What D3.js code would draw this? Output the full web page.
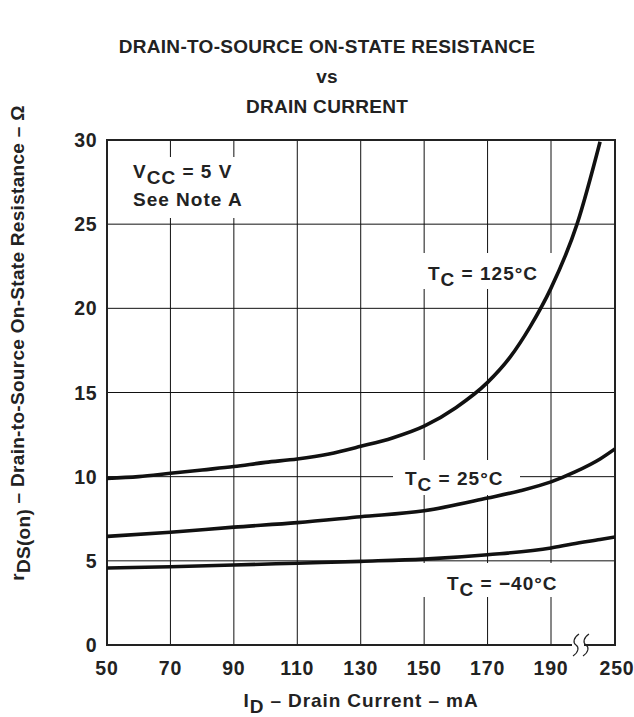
<!DOCTYPE html>
<html><head><meta charset="utf-8">
<script src="https://cdn.jsdelivr.net/npm/d3@7"></script>
<style>html,body{margin:0;padding:0;background:#fff;}svg{display:block;}</style>
</head><body>
<svg id="chart" width="634" height="717"></svg>
<script>
// ---- data ----
const titleLines = ["DRAIN-TO-SOURCE ON-STATE RESISTANCE", "vs", "DRAIN CURRENT"];
const xTicks = [50, 70, 90, 110, 130, 150, 170, 190, 250];
const yTicks = [0, 5, 10, 15, 20, 25, 30];
const xGrid = [70, 90, 110, 130, 150, 170, 190];
const yGrid = [5, 10, 15, 20, 25];
const t125 = [[50,9.9],[60,10.0],[70,10.2],[80,10.4],[90,10.6],[100,10.85],[110,11.05],[120,11.35],[130,11.8],[140,12.3],[150,13.0],[160,14.1],[170,15.6],[177.1,17.1],[183.4,18.9],[190,21.2],[214.4,25],[236,29.9]];
const t25 = [[50,6.45],[70,6.7],[90,7.0],[110,7.27],[130,7.62],[150,7.97],[170,8.73],[180,9.15],[190,9.69],[212.5,10.28],[236,11.05],[250,11.65]];
const tm40 = [[50,4.57],[70,4.65],[90,4.75],[110,4.86],[130,4.97],[150,5.1],[170,5.36],[190,5.76],[210,6.0],[236,6.27],[250,6.42]];

const svg = d3.select("#chart");
const FONT = "'Liberation Sans', Arial, Helvetica, sans-serif";
const x = d3.scaleLinear().domain([50, 190, 250]).range([107, 551, 615]);
const y = d3.scaleLinear().domain([0, 30]).range([645, 140]);
const L = 107, R = 615, T = 140, B = 645;

// title
svg.append("g").selectAll("text").data(titleLines).join("text")
  .attr("x", 327).attr("y", (d,i) => 53 + i*30)
  .attr("text-anchor", "middle").attr("font-family", FONT).attr("font-weight", "bold")
  .attr("font-size", 19).attr("letter-spacing", 0.3).attr("fill", "#222").text(d => d);

// grid
const g = svg.append("g");
g.selectAll("line.v").data(xGrid).join("line").attr("class","v")
  .attr("x1", d => x(d)).attr("x2", d => x(d)).attr("y1", T).attr("y2", B)
  .attr("stroke", "#111").attr("stroke-width", 1);
g.selectAll("line.h").data(yGrid).join("line").attr("class","h")
  .attr("x1", L).attr("x2", R).attr("y1", d => y(d)).attr("y2", d => y(d))
  .attr("stroke", "#111").attr("stroke-width", 1);

// white label backgrounds
const boxes = [[114,157,150,61],[415,253,145,36],[393,460,127,35],[415,563,155,34]];
svg.append("g").selectAll("rect").data(boxes).join("rect")
  .attr("x", d=>d[0]).attr("y", d=>d[1]).attr("width", d=>d[2]).attr("height", d=>d[3]).attr("fill", "#fff");

// frame
const fr = svg.append("g").attr("stroke", "#222").attr("stroke-width", 2).attr("fill", "none");
fr.append("line").attr("x1", L).attr("x2", R).attr("y1", T).attr("y2", T);
fr.append("line").attr("x1", L).attr("x2", L).attr("y1", T-1).attr("y2", B+1);
fr.append("line").attr("x1", R).attr("x2", R).attr("y1", T-1).attr("y2", B+1);
fr.append("line").attr("x1", L).attr("x2", 572).attr("y1", B).attr("y2", B);
fr.append("line").attr("x1", 584).attr("x2", R+1).attr("y1", B).attr("y2", B);
// break marks
[576, 586].forEach(bx => {
  fr.append("path").attr("stroke-width", 1.2)
    .attr("d", `M${bx+3},${B-11} C${bx-3},${B-7} ${bx-3},${B-2} ${bx},${B} C${bx+3},${B+2} ${bx+3},${B+7} ${bx-3},${B+11}`);
});

// curves
svg.append("clipPath").attr("id","pc").append("rect").attr("x", L).attr("y", T).attr("width", R-L).attr("height", B-T);
const line = d3.line().x(d => x(d[0])).y(d => y(d[1])).curve(d3.curveMonotoneX);
svg.append("g").attr("clip-path","url(#pc)").selectAll("path").data([t125, t25, tm40]).join("path")
  .attr("d", line).attr("fill", "none").attr("stroke", "#111").attr("stroke-width", 3.6)
  .attr("stroke-linecap", "butt");

// tick labels
svg.append("g").selectAll("text").data(yTicks).join("text")
  .attr("x", 97).attr("y", d => y(d)).attr("dy", "0.36em").attr("text-anchor", "end")
  .attr("font-family", FONT).attr("font-weight", "bold").attr("font-size", 19.5).attr("letter-spacing", 0.5).attr("fill", "#222")
  .text(d => d);
svg.append("g").selectAll("text").data(xTicks).join("text")
  .attr("x", d => x(d) + (d === 250 ? 2 : 0)).attr("y", 675).attr("text-anchor", "middle")
  .attr("font-family", FONT).attr("font-weight", "bold").attr("font-size", 19.5).attr("letter-spacing", 0.8).attr("fill", "#222")
  .text(d => d);

// helper for text with subscript
function subText(sel, parts, attrs) {
  const t = sel.append("text").attr("font-family", FONT).attr("font-weight", "bold").attr("fill", "#222");
  Object.entries(attrs).forEach(([k,v]) => t.attr(k, v));
  parts.forEach(p => {
    const ts = t.append("tspan").text(p.t);
    if (p.sub) ts.attr("baseline-shift", "-30%");
  });
  return t;
}

// annotations
const ann = {"font-size":19, "letter-spacing":1};
subText(svg, [{t:"V"},{t:"CC",sub:true},{t:" = 5 V"}], {x:133, y:178, ...ann});
svg.append("text").attr("x", 133).attr("y", 206).attr("font-family", FONT).attr("font-weight","bold")
  .attr("font-size", 19).attr("letter-spacing", 1).attr("fill", "#222").text("See Note A");
subText(svg, [{t:"T"},{t:"C",sub:true},{t:" = 125°C"}], {x:428, y:280, ...ann});
subText(svg, [{t:"T"},{t:"C",sub:true},{t:" = 25°C"}], {x:405, y:485, ...ann});
subText(svg, [{t:"T"},{t:"C",sub:true},{t:" = −40°C"}], {x:447, y:590, ...ann});

// axis titles
subText(svg, [{t:"I"},{t:"D",sub:true},{t:" – Drain Current – mA"}], {x:361, y:707, "text-anchor":"middle", "font-size":19, "letter-spacing":0.9});
subText(svg, [{t:"r"},{t:"DS(on)",sub:true},{t:" – Drain-to-Source On-State Resistance – Ω"}],
  {transform:"translate(24,343) rotate(-90)", "text-anchor":"middle", "font-size":19, "letter-spacing":0.3});
</script>
</body></html>
